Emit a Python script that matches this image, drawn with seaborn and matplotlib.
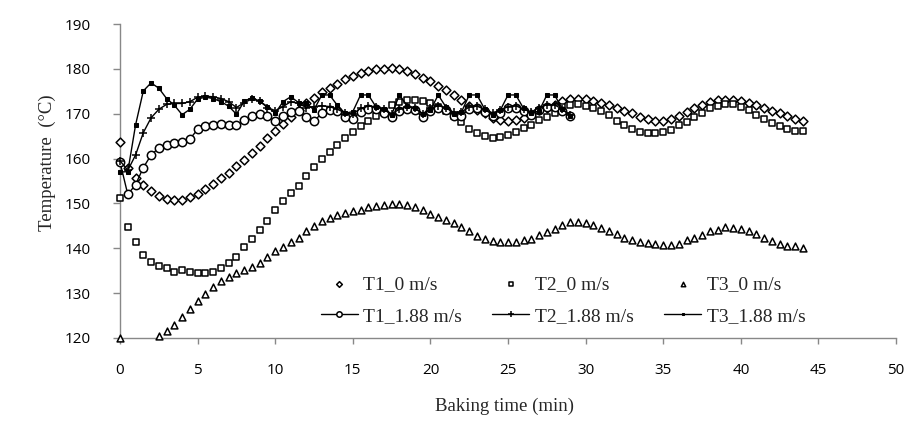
import numpy as np
import pandas as pd
import seaborn as sns
import matplotlib.pyplot as plt

# baking time (min), readings every 0.5 min
time_0 = np.arange(0, 44.01, 0.5)
time_188 = np.arange(0, 29.01, 0.5)

# without air flow (0 m/s)
t1_0 = [163.8, 158.0, 155.7, 154.2, 152.7, 151.7, 151.0, 150.7, 150.8, 151.4,
        152.2, 153.2, 154.3, 155.6, 156.8, 158.3, 159.7, 161.2, 162.8, 164.5,
        166.1, 167.7, 169.3, 170.8, 172.4, 173.6, 174.8, 175.7, 176.7, 177.7,
        178.4, 179.0, 179.5, 179.9, 180.1, 180.2, 180.0, 179.5, 178.8, 178.0,
        177.3, 176.2, 175.2, 174.2, 173.0, 171.8, 170.9, 170.1, 169.0, 168.6,
        168.4, 168.6, 169.0, 170.0, 170.8, 171.4, 171.9, 172.9, 173.2, 173.4,
        173.4, 172.8, 172.5, 171.9, 171.4, 170.7, 170.1, 169.3, 168.8, 168.4,
        168.5, 168.9, 169.6, 170.4, 171.3, 172.0, 172.6, 173.0, 173.1, 173.0,
        172.8, 172.5, 171.9, 171.3, 170.7, 170.1, 169.5, 168.9, 168.4]
t2_0 = [151.3, 144.8, 141.4, 138.4, 136.9, 136.0, 135.5, 134.7, 135.1, 134.7,
        134.5, 134.6, 134.7, 135.5, 136.7, 138.1, 140.4, 142.1, 144.1, 146.1,
        148.5, 150.5, 152.3, 154.0, 156.2, 158.1, 160.0, 161.4, 163.0, 164.6,
        165.9, 167.3, 168.4, 169.6, 170.6, 171.9, 172.6, 173.1, 173.1, 172.9,
        172.3, 171.6, 170.6, 169.4, 168.2, 166.7, 165.8, 165.1, 164.7, 164.8,
        165.3, 166.0, 166.8, 167.6, 168.6, 169.3, 170.2, 171.5, 172.0, 172.2,
        171.8, 171.4, 170.6, 169.7, 168.4, 167.6, 166.6, 166.0, 165.8, 165.8,
        165.9, 166.4, 167.4, 168.2, 169.2, 170.2, 171.3, 171.8, 172.1, 172.1,
        171.6, 170.8, 169.8, 168.9, 168.0, 167.2, 166.5, 166.1, 166.2]
t3_0 = [120.0, np.nan, np.nan, np.nan, np.nan, 120.4, 121.6, 122.9, 124.6, 126.4,
        128.3, 129.7, 131.4, 132.8, 133.6, 134.4, 135.1, 135.8, 136.8, 138.0,
        139.3, 140.4, 141.4, 142.4, 143.9, 145.0, 146.0, 146.7, 147.4, 147.9,
        148.3, 148.6, 149.1, 149.4, 149.7, 149.9, 149.8, 149.6, 149.3, 148.6,
        147.7, 146.9, 146.3, 145.6, 144.7, 143.9, 142.7, 142.0, 141.6, 141.5,
        141.5, 141.5, 141.8, 142.1, 143.0, 143.6, 144.4, 145.2, 145.8, 145.9,
        145.6, 145.3, 144.6, 143.9, 143.2, 142.3, 141.8, 141.3, 141.2, 140.9,
        140.8, 140.8, 141.0, 141.8, 142.4, 143.0, 143.9, 144.1, 144.7, 144.6,
        144.2, 143.9, 143.2, 142.3, 141.6, 141.0, 140.6, 140.5, 140.1]

# with air flow (1.88 m/s)
t1_188 = [159.2, 152.0, 154.2, 158.0, 160.8, 162.4, 163.0, 163.5, 163.7, 164.4,
          166.5, 167.2, 167.6, 167.7, 167.6, 167.4, 168.7, 169.6, 170.0, 169.5,
          168.4, 169.5, 170.4, 170.6, 169.3, 168.4, 170.1, 170.8, 170.7, 169.2,
          168.9, 170.4, 171.0, 171.0, 170.2, 169.3, 170.6, 171.0, 170.8, 169.2,
          170.6, 171.2, 170.9, 169.4, 169.6, 171.0, 171.2, 170.4, 169.5, 170.2,
          171.2, 171.4, 170.6, 169.7, 170.8, 171.6, 171.6, 170.6, 169.4]
t2_188 = [159.5, 157.4, 160.8, 165.8, 169.1, 171.0, 172.1, 172.3, 172.3, 172.7,
          173.7, 173.9, 173.8, 173.4, 172.7, 171.4, 172.5, 173.3, 172.8, 171.4,
          170.7, 171.6, 172.7, 172.3, 171.4, 171.6, 171.8, 171.6, 171.0, 170.2,
          170.0, 171.2, 171.7, 171.6, 171.0, 170.0, 171.0, 171.6, 171.4, 170.0,
          171.2, 171.8, 171.4, 170.3, 170.4, 171.5, 171.7, 171.0, 170.2, 170.8,
          171.6, 171.8, 171.0, 170.4, 171.4, 172.0, 172.0, 171.0, 169.8]
t3_188 = [157.0, 157.1, 167.5, 175.1, 176.9, 175.7, 173.4, 171.9, 169.8, 171.0,
          173.3, 173.7, 173.4, 172.7, 171.7, 169.9, 172.8, 173.6, 172.8, 171.6,
          170.1, 172.7, 173.8, 172.5, 172.3, 170.9, 174.2, 174.2, 171.9, 170.1,
          170.5, 174.2, 174.2, 171.5, 171.0, 169.8, 174.2, 171.8, 171.2, 170.0,
          170.8, 174.2, 171.5, 170.0, 170.4, 174.2, 174.2, 171.0, 169.8, 170.8,
          174.2, 174.2, 171.2, 170.2, 170.6, 174.2, 174.2, 171.0, 169.6]

sns.set_theme(style="ticks")
plt.rcParams['font.family'] = ['Open Sans', 'DejaVu Sans']

fig, ax = plt.subplots(figsize=(9.06, 4.23), dpi=100)
fig.subplots_adjust(left=0.1325, right=0.989, bottom=0.201, top=0.943)

df0 = pd.DataFrame({'time': time_0, 'T1': t1_0, 'T2': t2_0, 'T3': t3_0})
df1 = pd.DataFrame({'time': time_188, 'T1': t1_188, 'T2': t2_188, 'T3': t3_188})

# 0 m/s : markers only
sns.scatterplot(data=df0, x='time', y='T1', marker='D', s=20, facecolor='white',
                edgecolor='black', linewidth=1.1, label='T1_0 m/s', ax=ax, zorder=3,
                clip_on=False)
sns.scatterplot(data=df0, x='time', y='T2', marker='s', s=18, facecolor='white',
                edgecolor='black', linewidth=1.1, label='T2_0 m/s', ax=ax, zorder=3,
                clip_on=False)
sns.scatterplot(data=df0, x='time', y='T3', marker='^', s=24, facecolor='white',
                edgecolor='black', linewidth=1.1, label='T3_0 m/s', ax=ax, zorder=3,
                clip_on=False)

# 1.88 m/s : lines with markers
sns.lineplot(data=df1, x='time', y='T1', color='black', lw=1, marker='o', ms=6,
             mfc='white', mec='black', mew=1.1, label='T1_1.88 m/s', ax=ax, zorder=4,
             clip_on=False)
sns.lineplot(data=df1, x='time', y='T2', color='black', lw=1, marker='+', ms=6,
             mec='black', mew=1.1, label='T2_1.88 m/s', ax=ax, zorder=4, clip_on=False)
sns.lineplot(data=df1, x='time', y='T3', color='black', lw=1, marker='s', ms=3,
             mfc='black', mec='black', label='T3_1.88 m/s', ax=ax, zorder=4,
             clip_on=False)

ax.set_xlim(0, 50)
ax.set_ylim(120, 190)
ax.set_xticks(range(0, 51, 5))
ax.set_yticks(range(120, 191, 10))
ax.tick_params(axis='both', labelsize=11, color='#888888', labelcolor='black', width=1)
ax.tick_params(axis='y', length=5, pad=16)
ax.tick_params(axis='x', length=4, pad=14)
for side in ['top', 'right']:
    ax.spines[side].set_visible(False)
for side in ['left', 'bottom']:
    ax.spines[side].set_color('#888888')
    ax.spines[side].set_linewidth(1)

ax.set_xlabel('Baking time (min)', family=['Liberation Serif'], fontsize=13.5)
ax.set_ylabel('Temperature  (°C)', family=['Liberation Serif'], fontsize=13.5)
ax.xaxis.set_label_coords(0.496, -0.19)
ax.yaxis.set_label_coords(-0.082, 0.557)

# legend rows: 0 m/s on top, 1.88 m/s below
handles, labels = ax.get_legend_handles_labels()
order = [0, 3, 1, 4, 2, 5]
ax.legend([handles[i] for i in order], [labels[i] for i in order],
          loc='center', bbox_to_anchor=(0.571, 0.12), ncol=3, frameon=False,
          prop={'family': 'Liberation Serif', 'size': 14}, handlelength=1.9,
          columnspacing=1.55, handletextpad=0.3, labelspacing=0.75,
          scatterpoints=1, markerscale=0.65)

plt.savefig('out.png', dpi=100)
